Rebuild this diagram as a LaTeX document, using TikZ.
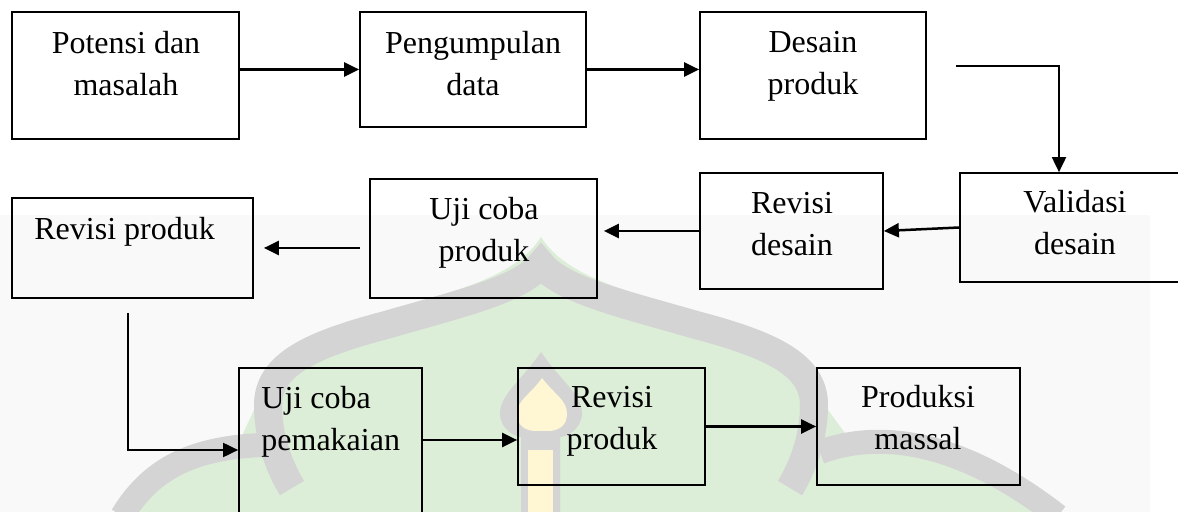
\documentclass[tikz,border=0pt]{standalone}
\usepackage{fontspec}
\setmainfont{Liberation Serif}
\usetikzlibrary{arrows.meta,fit,calc}
\definecolor{domegreen}{RGB}{220,237,216}
\definecolor{domegrey}{RGB}{212,212,212}
\definecolor{candle}{RGB}{255,246,212}
\definecolor{haze}{RGB}{249,249,249}

\begin{document}
\begin{tikzpicture}[x=0.5pt,y=-0.5pt,
  box/.style={draw=black, line width=0.85pt, inner sep=0pt},
  lbl/.style={font=\fontsize{16}{21}\selectfont, align=center, inner sep=0pt, anchor=base},
  lbll/.style={lbl, align=left, anchor=base west},
  arr/.style={draw=black, line width=1.25pt, -{Triangle[length=7.5pt,width=7pt]}},
  thinarr/.style={arr, line width=0.95pt},
  band/.style={draw=domegrey, line cap=butt},
]
\clip (0,0) rectangle (1178,512);

% background emblem: dome, side arcs and candle
\fill[haze] (0,215) rectangle (1150,512);
\fill[domegreen] (120,512) .. controls (150,470) and (190,445) .. (240,440)
  -- (254,410) .. controls (254,360) and (302,335) .. (382,312)
  .. controls (462,290) and (517,275) .. (541,237)
  .. controls (565,275) and (620,290) .. (700,312)
  .. controls (780,335) and (828,360) .. (828,410)
  -- (850,440) .. controls (920,440) and (1000,460) .. (1060,512) -- cycle;
\draw[band, line width=14pt] (292,488) .. controls (275,460) and (268,430) .. (268,405)
  .. controls (268,365) and (310,345) .. (386,325)
  .. controls (462,303) and (520,290) .. (541,264)
  .. controls (562,290) and (620,303) .. (696,325)
  .. controls (772,345) and (814,365) .. (814,405)
  .. controls (814,430) and (807,460) .. (790,488);
\draw[band, line width=12pt] (122,516) .. controls (150,470) and (190,448) .. (262,445);
\draw[band, line width=12pt] (820,452) .. controls (880,430) and (960,440) .. (1058,516);
\fill[domegrey] (541,352) .. controls (560,380) and (582,395) .. (582,413)
  .. controls (582,430) and (565,437) .. (560,437) -- (560,512) -- (521,512) -- (521,437)
  .. controls (516,437) and (500,430) .. (500,413)
  .. controls (500,395) and (522,380) .. cycle;
\fill[candle] (542,378) .. controls (555,395) and (567,400) .. (567,414)
  .. controls (567,426) and (558,431) .. (548,431) -- (536,431)
  .. controls (526,431) and (517,426) .. (517,414)
  .. controls (517,400) and (530,395) .. cycle;
\fill[candle] (528,450) rectangle (553,512);

% boxes
\node[box, fit={(12,12) (239,139)}] (potensi) {};
\node[box, fit={(360,12) (586,127)}] (pengumpulan) {};
\node[box, fit={(700,12) (926,139)}] (desain) {};
\node[box, fit={(960,173) (1192,282)}] (validasi) {};
\node[box, fit={(700,173) (883,289)}] (revdesain) {};
\node[box, fit={(370,179) (597,298)}] (ujicoba) {};
\node[box, fit={(12,198) (253,298)}] (revproduk) {};
\node[box, fit={(239,368) (422,532)}] (ujipakai) {};
\node[box, fit={(518,368) (705,485)}] (revproduk2) {};
\node[box, fit={(817,368) (1020,485)}] (produksi) {};

% labels (anchored on the baseline of their last line)
\node[lbl] (potensi-t) at (126,96) {Potensi dan\\masalah};
\node[lbl] (pengumpulan-t) at (473,96) {Pengumpulan\\data};
\node[lbl] (desain-t) at (813,95) {Desain\\produk};
\node[lbl] (validasi-t) at (1075,255) {Validasi\\desain};
\node[lbl] (revdesain-t) at (792,256) {Revisi\\desain};
\node[lbl] (ujicoba-t) at (484,262) {Uji coba\\produk};
\node[lbll] (revproduk-t) at (34,240) {Revisi produk};
\node[lbll] (ujipakai-t) at (261,451) {Uji coba\\pemakaian};
\node[lbl] (revproduk2-t) at (612,450) {Revisi\\produk};
\node[lbl] (produksi-t) at (918,450) {Produksi\\massal};

% connectors
\coordinate (bend-start) at (956,66);
\coordinate (bend) at (1059,66);
\draw[arr] (potensi.east |- pengumpulan.west) -- (pengumpulan.west);
\draw[arr] (pengumpulan.east) -- (pengumpulan.east -| desain.west);
\draw[thinarr] (bend-start) -- (bend) -- (bend |- validasi.north);
\draw[arr] (validasi.west) -- (revdesain.east);
\draw[arr, shorten >=3pt] (revdesain.west) -- (revdesain.west -| ujicoba.east);
\draw[arr, shorten <=4.5pt, shorten >=5pt] (ujicoba.west |- revproduk.east) -- (revproduk.east);
\draw[thinarr] ([xshift=-2.25pt,yshift=-7pt]revproduk.south) |- (ujipakai.west);
\draw[arr] ([yshift=5pt]ujipakai.east) -- ([yshift=5pt]ujipakai.east -| revproduk2.west);
\draw[arr] (revproduk2.east) -- (produksi.west);
\end{tikzpicture}
\end{document}
